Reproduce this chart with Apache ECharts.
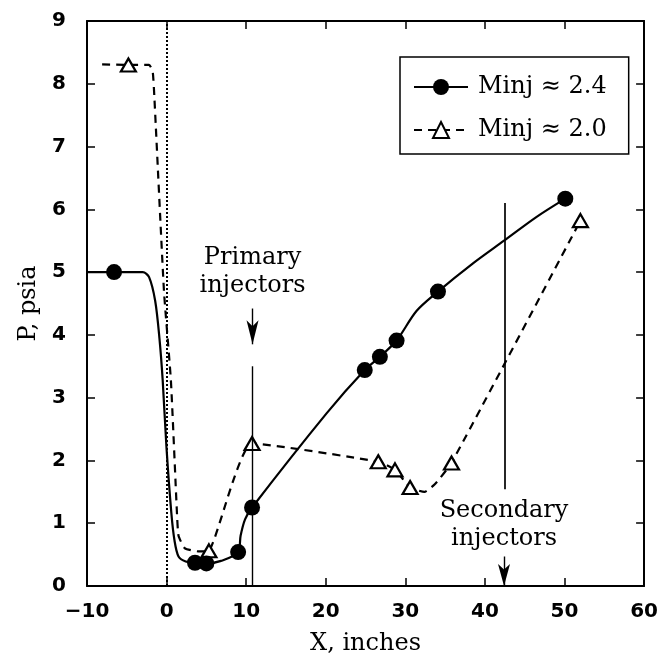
<!DOCTYPE html>
<html><head><meta charset="utf-8">
<script src="https://cdn.jsdelivr.net/npm/echarts@6/dist/echarts.min.js"></script>
<style>html,body{margin:0;padding:0;background:#fff}#c{width:661px;height:667px}</style>
</head><body><div id="c"></div>
<script>
// ---- data ----
const seriesNames = ['Minj \u2248 2.4', 'Minj \u2248 2.0'];
// Minj = 2.4 : measured points (filled circles) and extra curve trace points
const markers24 = [[-6.6,5.0],[3.57,0.37],[5.0,0.36],[8.99,0.54],[10.74,1.25],[24.9,3.44],[26.8,3.65],[28.9,3.91],[34.1,4.69],[50.1,6.17]];
const trace24 = [[-10,5.0],[-3.0,5.0],[-2.2,4.92],[-1.43,4.54],[-0.9,3.95],[-0.49,3.28],[-0.02,2.22],[0.6,1.16],[1.0,0.72],[1.5,0.47],[2.4,0.39],[6.85,0.40],[9.3,0.8],[9.86,1.06],[20.1,2.75],[31.4,4.38],[38.3,5.12],[42.4,5.50],[46.5,5.88]];
// Minj = 2.0 : measured points (open triangles) and extra curve trace points
const markers20 = [[-4.8,8.3],[5.32,0.56],[10.74,2.27],[26.6,1.98],[28.7,1.85],[30.6,1.57],[35.8,1.96],[52.0,5.82]];
const trace20 = [[-8.1,8.31],[-2.2,8.3],[-1.75,8.2],[-1.54,7.8],[-0.33,4.7],[0.54,3.28],[1.3,1.17],[1.5,0.8],[2.3,0.6],[4.1,0.55],[32.4,1.5],[33.7,1.62]];
// reference lines and injector arrows
const throatLineX = 0;
const primaryLine = [[10.8,0],[10.8,3.5]];
const primaryArrow = [[10.8,4.42],[10.8,3.85]];
const secondaryLine = [[42.5,1.54],[42.5,6.1]];
const secondaryArrow = [[42.4,0.47],[42.4,0.0]];
const annotTexts = ['Primary\ninjectors','Secondary\ninjectors'];
const annotPos = [[10.8,5.0],[42.4,0.98]];
const xTicks = [-10,0,10,20,30,40,50,60];
const yTicks = [0,1,2,3,4,5,6,7,8,9];

// ---- build ----
function build(trace, markers) {
  const pts = trace.map(p => ({value: p, symbol: 'none'})).concat(markers.map(p => ({value: p})));
  pts.sort((a, b) => a.value[0] - b.value[0]);
  return pts;
}
const sans = '"DejaVu Sans", "Liberation Sans", sans-serif';
const serif = '"DejaVu Serif", serif';
const tickLabel = {fontFamily: sans, fontWeight: 'bold', fontSize: 20, color: '#000'};
const axLine = {onZero: false, lineStyle: {color: '#000', width: 2}};
const axTick = {inside: true, length: 8, lineStyle: {color: '#000', width: 1.5}};
const fmt = v => (v < 0 ? '\u2212' + (-v) : String(v));

const chart = echarts.init(document.getElementById('c'), null, {renderer: 'canvas'});
chart.setOption({
  animation: false,
  backgroundColor: '#fff',
  grid: {left: 87, right: 9, top: 21, bottom: 81, containLabel: false},
  legend: {
    data: seriesNames, orient: 'vertical', left: 400, top: 57,
    borderColor: '#000', borderWidth: 1.5, padding: [18, 22, 12, 13],
    itemGap: 19, itemWidth: 54, itemHeight: 20,
    textStyle: {fontFamily: serif, fontSize: 24, color: '#000', padding: [0, 0, 0, 5]}
  },
  xAxis: [
    {type: 'value', min: xTicks[0], max: xTicks[xTicks.length-1], interval: 10, position: 'bottom',
     name: 'X, inches', nameLocation: 'middle', nameGap: 46,
     nameTextStyle: {fontFamily: serif, fontSize: 24, color: '#000'},
     axisLine: axLine, axisTick: axTick, splitLine: {show: false},
     axisLabel: Object.assign({margin: 16, formatter: fmt}, tickLabel)},
    {type: 'value', min: xTicks[0], max: xTicks[xTicks.length-1], interval: 10, position: 'top',
     axisLine: axLine, axisTick: axTick, splitLine: {show: false}, axisLabel: {show: false}}
  ],
  yAxis: [
    {type: 'value', min: yTicks[0], max: yTicks[yTicks.length-1], interval: 1, position: 'left',
     name: 'P, psia', nameLocation: 'middle', nameGap: 44,
     nameTextStyle: {fontFamily: serif, fontSize: 24, color: '#000'},
     axisLine: axLine, axisTick: axTick, splitLine: {show: false},
     axisLabel: Object.assign({margin: 21}, tickLabel)},
    {type: 'value', min: yTicks[0], max: yTicks[yTicks.length-1], interval: 1, position: 'right',
     axisLine: axLine, axisTick: axTick, splitLine: {show: false}, axisLabel: {show: false}}
  ],
  series: [
    {
      name: 'refs', type: 'line', data: [], silent: true,
      markLine: {
        silent: true, animation: false, symbol: ['none', 'none'], label: {show: false},
        emphasis: {disabled: true},
        lineStyle: {color: '#000', width: 1.4, type: 'solid'},
        data: [
          [{coord: [throatLineX, yTicks[0]], lineStyle: {type: [2, 2], width: 2}}, {coord: [throatLineX, yTicks[yTicks.length-1]]}],
          [{coord: primaryLine[0]}, {coord: primaryLine[1]}],
          [{coord: secondaryLine[0], lineStyle: {width: 1.7}}, {coord: secondaryLine[1]}],
          [{coord: primaryArrow[0]}, {coord: primaryArrow[1], symbol: 'arrow', symbolSize: [9, 24]}],
          [{coord: secondaryArrow[0]}, {coord: secondaryArrow[1], symbol: 'arrow', symbolSize: [9, 22]}]
        ]
      }
    },
    {
      name: seriesNames[0], type: 'line', data: build(trace24, markers24),
      symbol: 'circle', symbolSize: 16, showSymbol: true, showAllSymbol: true,
      smooth: 0.3, z: 4,
      itemStyle: {color: '#000'}, lineStyle: {color: '#000', width: 2.2}
    },
    {
      name: seriesNames[1], type: 'line', data: build(trace20, markers20),
      symbol: 'triangle', symbolSize: [15, 13], showSymbol: true, showAllSymbol: true,
      smooth: 0.15, z: 3,
      itemStyle: {color: '#fff', borderColor: '#000', borderWidth: 2.2},
      lineStyle: {color: '#000', width: 2.2, type: [8, 6]}
    },
    {
      name: 'annot', type: 'scatter', silent: true, symbolSize: 1,
      itemStyle: {color: 'rgba(255,255,255,0)', opacity: 1},
      data: annotPos.map((p, i) => ({value: p, name: annotTexts[i]})),
      label: {show: true, position: 'inside', formatter: p => p.name, textBorderWidth: 0, opacity: 1,
        fontFamily: serif, fontSize: 24, lineHeight: 28, color: '#000', align: 'center', verticalAlign: 'middle'}
    }
  ]
});
</script></body></html>
